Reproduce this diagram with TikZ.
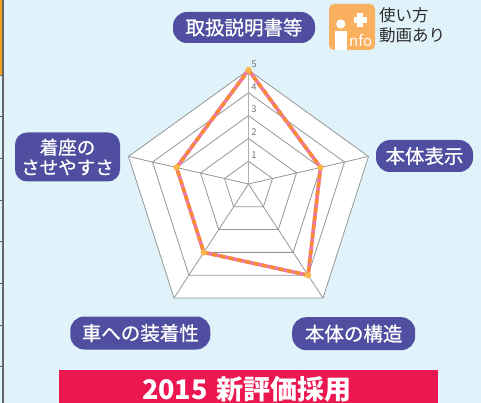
\documentclass[tikz,border=0pt]{standalone}
\usepackage{fontspec}
\setmainfont{Noto Sans CJK JP}
\newfontfamily\jpmed[FakeBold=0.7]{Noto Sans CJK JP}
\usetikzlibrary{calc}
\definecolor{bgblue}{RGB}{224,242,250}
\definecolor{lblue}{RGB}{80,78,160}
\definecolor{gridgray}{RGB}{150,150,150}
\definecolor{axisgray}{RGB}{175,175,175}
\definecolor{dataorange}{RGB}{247,140,50}
\definecolor{datapink}{RGB}{236,120,170}
\definecolor{markorange}{RGB}{251,182,72}
\definecolor{infoorange}{RGB}{251,176,96}
\definecolor{bannerred}{RGB}{236,22,80}
\definecolor{edgegray}{RGB}{100,100,100}
\definecolor{edgeorange}{RGB}{245,160,30}
\definecolor{textgray}{RGB}{45,45,45}
\definecolor{ticktext}{RGB}{120,120,120}
\begin{document}
\begin{tikzpicture}[x=1pt,y=-1pt,
  axlabel/.style={fill=lblue, text=white, rounded corners=14pt, inner sep=0pt,
    font=\jpmed\fontsize{19.5}{22}\selectfont},
  gridline/.style={draw=gridgray, line width=0.8pt},
  axisline/.style={draw=axisgray, line width=1.3pt},
  ticklabel/.style={text=ticktext, inner sep=0pt, font=\fontsize{9.5}{10}\selectfont},
  datapath/.style={line width=3.6pt, line join=round},
  edgetick/.style={draw=edgegray, line width=0.9pt}]
\useasboundingbox (0,0) rectangle (481,403);
\clip (0,0) rectangle (481,403);
\fill[bgblue] (0,0) rectangle (481,403);

% left edge
\fill[edgeorange] (0,0) rectangle (2.4,75);
\draw[edgegray, line width=1.1pt] (3,0) -- (3,403);
\foreach \t in {0,...,7} \draw[edgetick] (0,{75+41.7*\t}) -- (3,{75+41.7*\t});

% radar geometry
\coordinate (C) at (248.5,184);
\coordinate (v1) at (248.5,70);
\coordinate (v2) at (368.5,156.5);
\coordinate (v3) at (323,298);
\coordinate (v4) at (174,298);
\coordinate (v5) at (128.5,156.5);

\fill[white] (v1) -- (v2) -- (v3) -- (v4) -- (v5) -- cycle;
\foreach \k in {1,...,5}
  \draw[gridline] ($(C)!\k/5!(v1)$) -- ($(C)!\k/5!(v2)$) -- ($(C)!\k/5!(v3)$)
    -- ($(C)!\k/5!(v4)$) -- ($(C)!\k/5!(v5)$) -- cycle;
\foreach \i in {2,...,5} \draw[gridline] (C) -- (v\i);
\draw[axisline] (C) -- (v1);
\foreach \k in {1,...,5}
  \node[ticklabel] (t\k) at ($(C)!\k/5!(v1)+(5.5,-6)$) {\k};

% data
\coordinate (d1) at (v1);
\coordinate (d2) at ($(C)!0.6!(v2)$);
\coordinate (d3) at ($(C)!0.8!(v3)$);
\coordinate (d4) at ($(C)!0.6!(v4)$);
\coordinate (d5) at ($(C)!0.6!(v5)$);
\draw[datapath, datapink] (d1) -- (d2) -- (d3) -- (d4) -- (d5) -- cycle;
\draw[datapath, dataorange, dash pattern=on 5pt off 3.5pt] (d1) -- (d2) -- (d3) -- (d4) -- (d5) -- cycle;
\foreach \i in {1,...,5} \fill[markorange] (d\i) circle (3.2);

% axis labels
\node[axlabel, minimum width=142pt, minimum height=31pt] (l1) at (244,27.5) {取扱説明書等};
\node[axlabel, minimum width=97pt, minimum height=32pt] (l2) at (424.5,156) {本体表示};
\node[axlabel, minimum width=123pt, minimum height=33pt] (l3) at (353.7,333.7) {本体の構造};
\node[axlabel, minimum width=140pt, minimum height=33pt] (l4) at (140.3,333) {車への装着性};
\node[axlabel, minimum width=105pt, minimum height=49pt, rounded corners=12pt,
  align=center, font=\jpmed\fontsize{18.5}{20}\selectfont] (l5) at (67.5,157) {着座の\\させやすさ};

% info icon
\fill[infoorange, rounded corners=5pt] (329,4) rectangle (375,50);
\fill[white] (340.7,24) circle (4.6);
\fill[white] (335.3,31.5) rectangle (346.7,50);
\fill[white] (353.5,17.3) rectangle (366.7,22.7);
\fill[white] (357.4,13.3) rectangle (362.8,26.7);
\node[text=white, anchor=base west, inner sep=0pt, font=\fontsize{15}{15}\selectfont] (nfo) at (349,46.5) {nfo};
\node[anchor=west, text=textgray, align=left, inner sep=0pt,
  font=\fontsize{16.5}{20}\selectfont] (howto) at (379,25) {使い方\\動画あり};

% banner
\fill[bannerred] (59.3,369.7) rectangle (437.7,410);
\node[text=white, inner sep=0pt, font=\bfseries\fontsize{27}{30}\selectfont] (ban) at (247,389.5) {2015\hspace{3pt} 新評価採用};
\end{tikzpicture}
\end{document}
